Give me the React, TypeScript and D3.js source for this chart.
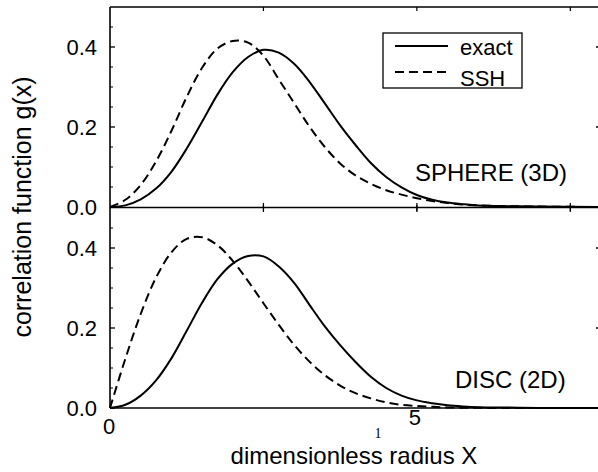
import React from "react";
import * as d3 from "d3";

const xs = [0, 0.25, 0.5, 0.75, 1, 1.25, 1.5, 1.75, 2, 2.25, 2.5, 2.75, 3, 3.25, 3.5, 3.75, 4, 4.25, 4.5, 4.75, 5, 5.25, 5.5, 5.75, 6, 6.5, 7, 8];

const sphereExact = [0, 0.004, 0.019, 0.046, 0.088, 0.146, 0.213, 0.281, 0.337, 0.375, 0.393, 0.386, 0.358, 0.313, 0.259, 0.204, 0.155, 0.110, 0.075, 0.049, 0.030, 0.018, 0.011, 0.007, 0.004, 0.002, 0.001, 0];
const sphereSSH = [0, 0.018, 0.055, 0.114, 0.19, 0.275, 0.348, 0.396, 0.415, 0.411, 0.378, 0.319, 0.26, 0.201, 0.15, 0.109, 0.079, 0.058, 0.042, 0.031, 0.022, 0.015, 0.01, 0.006, 0.004, 0.002, 0.001, 0];
const discExact = [0, 0.008, 0.031, 0.069, 0.124, 0.193, 0.263, 0.322, 0.361, 0.38, 0.379, 0.354, 0.313, 0.258, 0.204, 0.157, 0.115, 0.078, 0.05, 0.031, 0.019, 0.012, 0.007, 0.004, 0.002, 0.001, 0, 0];
const discSSH = [0, 0.123, 0.235, 0.326, 0.389, 0.423, 0.427, 0.407, 0.368, 0.317, 0.262, 0.208, 0.158, 0.116, 0.082, 0.056, 0.037, 0.024, 0.014, 0.008, 0.005, 0.003, 0.0014, 0.0007, 0.0004, 0.0001, 0, 0];

const yTickLabels = ["0.0", "0.2", "0.4"];
const yTickValues = [0, 0.2, 0.4];
const yMinorTicks = [0.05, 0.1, 0.15, 0.25, 0.3, 0.35, 0.45];
const xTickValues = [2.5, 5, 7.5];
const xLabels = [{ v: 0, t: "0" }, { v: 5, t: "5" }];
const legendItems = ["exact", "SSH"];
const panelLabels = ["SPHERE (3D)", "DISC (2D)"];

const FONT = "'Liberation Sans', Arial, Helvetica, sans-serif";

export default function App() {
  const x = d3.scaleLinear().domain([0, 8]).range([110, 601]);
  const yTop = d3.scaleLinear().domain([0, 0.5]).range([207, 7]);
  const yBot = d3.scaleLinear().domain([0, 0.5]).range([408, 208]);

  const mk = (ys: number[], sc: d3.ScaleLinear<number, number>) =>
    d3
      .line<number>()
      .x((_, i) => x(xs[i]))
      .y((d) => sc(d))
      .curve(d3.curveCatmullRom.alpha(0.5))(ys) as string;

  const panels = [
    { sc: yTop, exact: sphereExact, ssh: sphereSSH, label: panelLabels[0], lx: 415, ly: 181 },
    { sc: yBot, exact: discExact, ssh: discSSH, label: panelLabels[1], lx: 455, ly: 388 },
  ];

  const left = x(0);
  const right = x(8);

  return (
    <svg width={598} height={472} style={{ position: "absolute", left: 0, top: 0, background: "#fff" }}>
      <rect width={598} height={472} fill="#fff" />
      {panels.map((p, pi) => (
        <g key={pi}>
          {yTickValues.map((v) => (
            <line key={"M" + v} x1={left} x2={left + 5} y1={p.sc(v)} y2={p.sc(v)} stroke="#000" strokeWidth={1.3} />
          ))}
          {yMinorTicks.map((v) => (
            <line key={"m" + v} x1={left} x2={left + 3} y1={p.sc(v)} y2={p.sc(v)} stroke="#000" strokeWidth={1} />
          ))}
          {yTickValues.map((v) => (
            <line key={"RM" + v} x1={right} x2={right - 5} y1={p.sc(v)} y2={p.sc(v)} stroke="#000" strokeWidth={1.3} />
          ))}
          {yTickValues.map((v, i) => (
            <text key={"L" + v} x={97} y={p.sc(v)} dy="0.36em" textAnchor="end" fontFamily={FONT} fontSize={22} fill="#000">
              {yTickLabels[i]}
            </text>
          ))}
          {xTickValues.map((v) => (
            <line key={"xt" + v} x1={x(v)} x2={x(v)} y1={p.sc(0.5) - (pi === 1 ? 3 : 0)} y2={p.sc(0.5) + 4} stroke="#000" strokeWidth={1.2} />
          ))}
          <path d={mk(p.exact, p.sc)} fill="none" stroke="#000" strokeWidth={2} />
          <path d={mk(p.ssh, p.sc)} fill="none" stroke="#000" strokeWidth={2} strokeDasharray="9,5" />
          <text x={p.lx} y={p.ly} fontFamily={FONT} fontSize={24} fill="#000">
            {p.label}
          </text>
        </g>
      ))}
      {xTickValues.map((v) => (
        <line key={"xb" + v} x1={x(v)} x2={x(v)} y1={yTop(0) - 4} y2={yTop(0) + 4} stroke="#000" strokeWidth={1.2} />
      ))}
      <line x1={left} x2={left} y1={yTop(0.5)} y2={yBot(0)} stroke="#000" strokeWidth={1.6} />
      <line x1={right} x2={right} y1={yTop(0.5)} y2={yBot(0)} stroke="#000" strokeWidth={1.6} />
      <line x1={left} x2={right} y1={yTop(0.5)} y2={yTop(0.5)} stroke="#000" strokeWidth={1.6} />
      <line x1={left} x2={right} y1={yTop(0) + 0.5} y2={yTop(0) + 0.5} stroke="#000" strokeWidth={1.6} />
      <line x1={left} x2={right} y1={yBot(0)} y2={yBot(0)} stroke="#000" strokeWidth={1.6} />

      <text x={x(xLabels[0].v) - 1} y={434} textAnchor="middle" fontFamily={FONT} fontSize={22} fill="#000">
        {xLabels[0].t}
      </text>
      <text x={x(xLabels[1].v) - 2} y={425} textAnchor="middle" fontFamily={FONT} fontSize={22} fill="#000">
        {xLabels[1].t}
      </text>
      <text x={378} y={438} textAnchor="middle" fontFamily="'Liberation Serif', 'Times New Roman', serif" fontSize={14} fill="#000">
        1
      </text>
      <text x={354} y={464} textAnchor="middle" fontFamily={FONT} fontSize={24} fill="#000">
        dimensionless radius X
      </text>
      <text transform={`translate(31,207) rotate(-90)`} textAnchor="middle" fontFamily={FONT} fontSize={25} fill="#000">
        correlation function g(x)
      </text>

      <rect x={383} y={33} width={139} height={55} fill="#fff" stroke="#000" strokeWidth={1.3} />
      <line x1={395} x2={448} y1={46} y2={46} stroke="#000" strokeWidth={2} />
      <line x1={395} x2={448} y1={72} y2={72} stroke="#000" strokeWidth={2} strokeDasharray="9,5" />
      <text x={460} y={55} fontFamily={FONT} fontSize={22} fill="#000">
        {legendItems[0]}
      </text>
      <text x={460} y={86} fontFamily={FONT} fontSize={22} fill="#000">
        {legendItems[1]}
      </text>
    </svg>
  );
}
